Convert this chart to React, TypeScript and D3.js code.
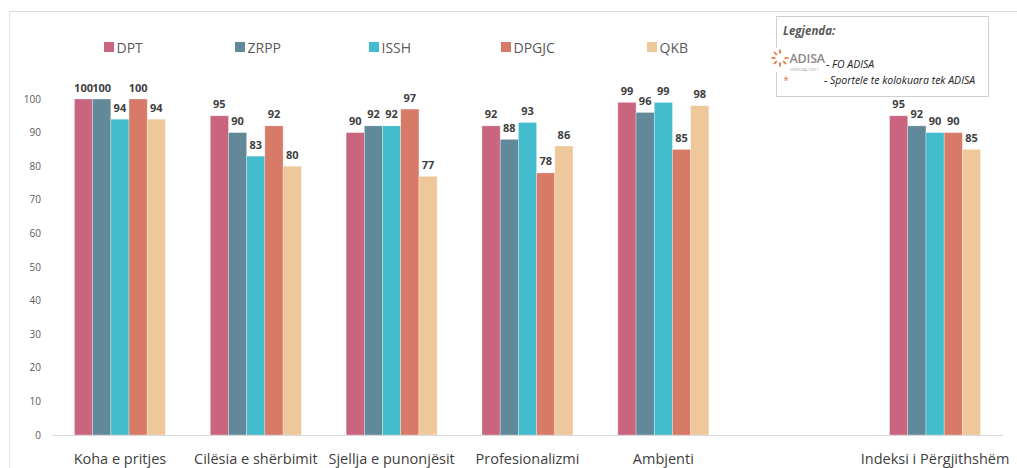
import React from "react";
import * as d3 from "d3";

// Survey satisfaction scores per institution, by service dimension
const categories = [
  "Koha e pritjes",
  "Cilësia e shërbimit",
  "Sjellja e punonjësit",
  "Profesionalizmi",
  "Ambjenti",
  "",
  "Indeksi i Përgjithshëm",
];

const seriesNames = ["DPT", "ZRPP", "ISSH", "DPGJC", "QKB"];
const seriesColors = ["#CA6580", "#61899A", "#43BCCD", "#D77A68", "#EEC79B"];

const dptValues = [100, 95, 90, 92, 99, null, 95];
const zrppValues = [100, 90, 92, 88, 96, null, 92];
const isshValues = [94, 83, 92, 93, 99, null, 90];
const dpgjcValues = [100, 92, 97, 78, 85, null, 90];
const qkbValues = [94, 80, 77, 86, 98, null, 85];

const yTicks = [0, 10, 20, 30, 40, 50, 60, 70, 80, 90, 100];

const seriesValues = [dptValues, zrppValues, isshValues, dpgjcValues, qkbValues];

const legendX = [104, 235, 369, 501, 647];

const W = 1017;
const H = 468;
const FONT = "'Open Sans', 'Noto Sans', sans-serif";

export default function App() {
  const x = d3
    .scaleBand<string>()
    .domain(categories.map((c, i) => String(i)))
    .range([52, 1003])
    .paddingInner(0.33)
    .paddingOuter(0.165);
  const xs = d3
    .scaleBand<string>()
    .domain(seriesNames)
    .range([0, x.bandwidth()])
    .padding(0);
  const y = d3.scaleLinear().domain([0, 100]).range([435, 99]);

  // Logo rays around a circle, one gap at the upper right
  const rays = d3.range(8).map((i) => {
    const a = (i / 8) * Math.PI * 2 - Math.PI / 2;
    return { a, skip: i === 1 };
  });

  return (
    <svg
      width={W}
      height={H}
      style={{ position: "absolute", left: 0, top: 0, background: "#fff" }}
      fontFamily={FONT}
    >
      {/* frame edges */}
      <line x1={9.5} x2={W} y1={11.5} y2={11.5} stroke="#d9d9d9" />
      <line x1={9.5} x2={9.5} y1={11.5} y2={H} stroke="#e3e3e3" />

      {/* legend */}
      {seriesNames.map((s, i) => (
        <g key={s}>
          <rect x={legendX[i]} y={42} width={10} height={10} fill={seriesColors[i]} />
          <text x={legendX[i] + 12.5} y={52.5} fontSize={14} fill="#595959">
            {s}
          </text>
        </g>
      ))}

      {/* y axis labels */}
      {yTicks.map((t) => (
        <text
          key={t}
          x={41}
          y={y(t) + 3.5}
          textAnchor="end"
          fontSize={10}
          fill="#595959"
        >
          {t}
        </text>
      ))}

      {/* bars */}
      {categories.map((c, ci) => (
        <g key={ci} transform={`translate(${x(String(ci))},0)`}>
          {seriesNames.map((s, si) => {
            const v = seriesValues[si][ci];
            if (v == null) return null;
            return (
              <rect
                key={s}
                x={xs(s)}
                y={y(v)}
                width={xs.bandwidth()}
                height={y(0) - y(v)}
                fill={seriesColors[si]}
                stroke="#ffffff"
                strokeOpacity={0.5}
                strokeWidth={0.6}
              />
            );
          })}
          {seriesNames.map((s, si) => {
            const v = seriesValues[si][ci];
            if (v == null) return null;
            return (
              <text
                key={s}
                x={(xs(s) as number) + xs.bandwidth() / 2}
                y={y(v) - 7.5}
                textAnchor="middle"
                fontSize={11}
                fontWeight="bold"
                fill="#404040"
              >
                {v}
              </text>
            );
          })}
        </g>
      ))}

      {/* x axis */}
      <line x1={52} x2={1003} y1={435.5} y2={435.5} stroke="#d9d9d9" strokeWidth={1.2} />
      {categories.map((c, ci) => (
        <text
          key={ci}
          x={(x(String(ci)) as number) + x.bandwidth() / 2}
          y={464}
          textAnchor="middle"
          fontSize={14.5}
          fill="#404040"
        >
          {c}
        </text>
      ))}

      {/* legend note box */}
      <rect x={776.5} y={16.5} width={212} height={80} fill="#fff" stroke="#d0d0d0" />
      <text
        x={783}
        y={35}
        fontSize={11.5}
        fontWeight="bold"
        fontStyle="italic"
        fill="#595959"
      >
        Legjenda:
      </text>
      <rect x={770} y={48} width={56} height={24} fill="#fff" />
      <g transform="translate(780,58)">
        {rays
          .filter((r) => !r.skip)
          .map((r, i) => (
            <line
              key={i}
              x1={Math.cos(r.a) * 4.5}
              y1={Math.sin(r.a) * 4.5}
              x2={Math.cos(r.a) * 8.5}
              y2={Math.sin(r.a) * 8.5}
              stroke="#E8733A"
              strokeWidth={1.7}
            />
          ))}
      </g>
      <text x={789.5} y={63} fontSize={12.5} fontWeight={600} fill="#8a8a8a" letterSpacing={-0.2}>
        ADISA
      </text>
      <text x={790} y={70.5} fontSize={3.5} fill="#9a9a9a">
        VENDOSJA 1000 T
      </text>
      <text x={786} y={84} fontSize={10} fill="#E8733A" textAnchor="middle">
        *
      </text>
      <text x={826} y={68} fontSize={10.5} fontStyle="italic" fill="#222">
        - FO ADISA
      </text>
      <text x={824} y={84} fontSize={10.5} fontStyle="italic" fill="#222">
        - Sportele te kolokuara tek ADISA
      </text>
    </svg>
  );
}
